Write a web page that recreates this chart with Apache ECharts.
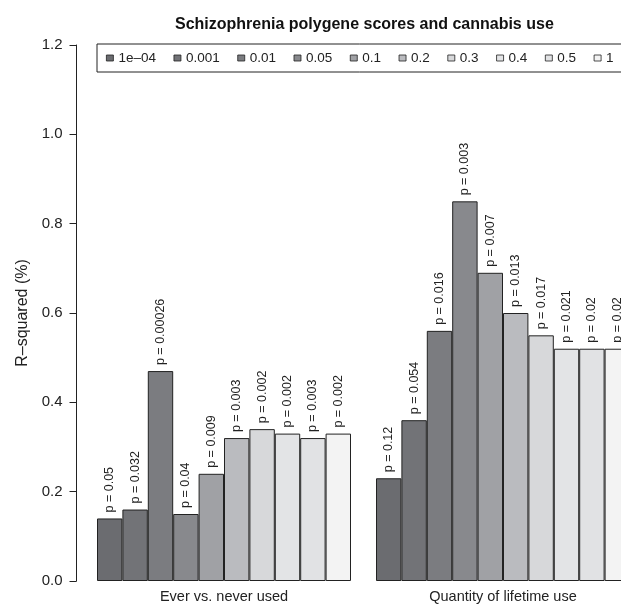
<!DOCTYPE html>
<html>
<head>
<meta charset="utf-8">
<script src="https://cdn.jsdelivr.net/npm/echarts@6/dist/echarts.min.js"></script>
<style>
html,body{margin:0;padding:0;background:#fff;}
#chart{width:621px;height:604px;}
</style>
</head>
<body>
<div id="chart"></div>
<script>
const categories = ['Ever vs. never used', 'Quantity of lifetime use'];
const thresholds = ['1e\u201304', '0.001', '0.01', '0.05', '0.1', '0.2', '0.3', '0.4', '0.5', '1'];
const everNever = [0.14, 0.16, 0.47, 0.15, 0.24, 0.32, 0.34, 0.33, 0.32, 0.33];
const quantity = [0.23, 0.36, 0.56, 0.85, 0.69, 0.60, 0.55, 0.52, 0.52, 0.52];
const pEverNever = ['0.05', '0.032', '0.00026', '0.04', '0.009', '0.003', '0.002', '0.002', '0.003', '0.002'];
const pQuantity = ['0.12', '0.054', '0.016', '0.003', '0.007', '0.013', '0.017', '0.021', '0.02', '0.02'];
const yTicks = [0, 0.2, 0.4, 0.6, 0.8, 1.0, 1.2];
const colors = ['#6b6c70', '#727377', '#7b7c80', '#88898d', '#a0a1a5', '#babbbf', '#d7d8da', '#e3e4e6', '#e1e2e4', '#f3f3f3'];

const FONT = 'Liberation Sans, Arial, Helvetica, sans-serif';
const chart = echarts.init(document.getElementById('chart'), null, {renderer: 'canvas'});

const pv = [pEverNever, pQuantity];
const series = thresholds.map((t, i) => ({
  name: t,
  type: 'bar',
  data: [everNever[i], quantity[i]],
  barWidth: 25.4,
  barGap: 0,
  itemStyle: {color: colors[i], borderColor: '#222', borderWidth: 1},
  label: {
    show: true,
    position: 'top',
    rotate: 90,
    align: 'left',
    verticalAlign: 'middle',
    distance: 6,
    fontSize: 12.5,
    fontFamily: FONT,
    color: '#222',
    formatter: p => 'p = ' + pv[p.dataIndex][i]
  },
  emphasis: {disabled: true},
  animation: false
}));

chart.setOption({
  animation: false,
  backgroundColor: '#fff',
  title: {
    text: 'Schizophrenia polygene scores and cannabis use',
    left: 170,
    top: 12,
    textStyle: {fontFamily: FONT, fontSize: 16, fontWeight: 'bold', color: '#111'}
  },
  legend: {
    left: 97,
    top: 44,
    width: 560,
    padding: [7, 40, 7, 9],
    borderColor: '#222',
    borderWidth: 1,
    borderRadius: 0,
    itemWidth: 7,
    itemHeight: 6,
    itemGap: 17.6,
    icon: 'rect',
    selectedMode: false,
    itemStyle: {borderWidth: 0.8, borderColor: '#222'},
    textStyle: {fontFamily: FONT, fontSize: 13.5, color: '#222'},
    data: thresholds
  },
  grid: {left: 84.5, width: 558, top: 45, bottom: 23, containLabel: false, outerBoundsMode: 'none'},
  xAxis: {
    type: 'category',
    data: categories,
    axisLine: {show: false},
    axisTick: {show: false},
    axisLabel: {fontFamily: FONT, fontSize: 14.5, color: '#222', margin: 8}
  },
  yAxis: {
    type: 'value',
    min: 0,
    max: 1.2,
    interval: 0.2,
    offset: 8,
    name: 'R\u2013squared (%)',
    nameLocation: 'middle',
    nameGap: 41,
    nameTextStyle: {fontFamily: FONT, fontSize: 16, color: '#222'},
    axisLine: {show: true, lineStyle: {color: '#222', width: 1}},
    axisTick: {show: true, length: 7, lineStyle: {color: '#222'}},
    splitLine: {show: false},
    axisLabel: {fontFamily: FONT, fontSize: 15, color: '#222', margin: 14, formatter: v => v.toFixed(1)}
  },
  series: series
});
</script>
</body>
</html>
